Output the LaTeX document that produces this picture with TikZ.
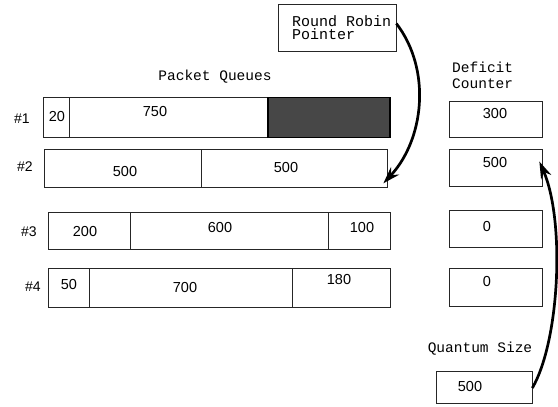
\documentclass[tikz,border=0pt]{standalone}
\usepackage{fontspec}
\setmainfont{Liberation Sans}
\setmonofont{Liberation Mono}
\usetikzlibrary{arrows.meta}
\begin{document}
\begin{tikzpicture}[x=1pt,y=-1pt,
  cell/.style={draw=black!85, line width=0.7pt, inner sep=0pt},
  shaded/.style={cell, fill=black!72, draw=black, line width=1.8pt},
  num/.style={font=\fontsize{14.5}{16}\selectfont, inner sep=0pt},
  qlabel/.style={font=\fontsize{14}{16}\selectfont, inner sep=0pt},
  captext/.style={font=\ttfamily\fontsize{14.5}{16}\selectfont, inner sep=0pt, align=left},
  ptr/.style={line width=2.7pt, -{Stealth[length=17pt,width=11pt]}}]
\useasboundingbox (0,0) rectangle (558,407);

% captions
\node[captext] (pq) at (215,77) {Packet Queues};
\node[captext, anchor=west] (dc) at (452,75) {Deficit\\Counter};
\node[captext] (qsz) at (480,349) {Quantum Size};

% round robin pointer box
\node[cell, minimum width=118pt, minimum height=47pt] (rr) at (337,27.5) {};
\node[captext, anchor=west, font=\ttfamily\fontsize{15}{13.5}\selectfont] (rrt) at (292,27.5) {Round Robin\\Pointer};

% queue labels
\node[qlabel] (l1) at (22,119) {\#1};
\node[qlabel] (l2) at (25,167) {\#2};
\node[qlabel] (l3) at (29,232) {\#3};
\node[qlabel] (l4) at (33,287) {\#4};

% queue 1
\node[cell, minimum width=26pt, minimum height=40pt] (q1a) at (56,117) {};
\node[cell, minimum width=199pt, minimum height=40pt] (q1b) at (168.5,117) {};
\node[shaded, minimum width=122pt, minimum height=40pt] (q1c) at (329,117.5) {};
\node[num] (t1a) at (57,117) {20};
\node[num] (t1b) at (155,112) {750};

% queue 2
\node[cell, minimum width=157pt, minimum height=38pt] (q2a) at (122.5,168) {};
\node[cell, minimum width=186pt, minimum height=38pt] (q2b) at (294,168) {};
\node[num] (t2a) at (125,172) {500};
\node[num] (t2b) at (286,168) {500};

% queue 3
\node[cell, minimum width=82pt, minimum height=37pt] (q3a) at (89,230.5) {};
\node[cell, minimum width=198pt, minimum height=37pt] (q3b) at (229,230.5) {};
\node[cell, minimum width=62pt, minimum height=37pt] (q3c) at (359,230.5) {};
\node[num] (t3a) at (85,232) {200};
\node[num] (t3b) at (220,228) {600};
\node[num] (t3c) at (362,228) {100};

% queue 4
\node[cell, minimum width=41pt, minimum height=39pt] (q4a) at (68.5,287.5) {};
\node[cell, minimum width=203pt, minimum height=39pt] (q4b) at (190.5,287.5) {};
\node[cell, minimum width=98pt, minimum height=39pt] (q4c) at (341,287.5) {};
\node[num] (t4a) at (69,285) {50};
\node[num] (t4b) at (185,288) {700};
\node[num] (t4c) at (339,280) {180};

% deficit counters
\node[cell, minimum width=93pt, minimum height=36pt] (d1) at (495.5,119) {};
\node[cell, minimum width=93pt, minimum height=37pt] (d2) at (495.5,167.5) {};
\node[cell, minimum width=93pt, minimum height=37pt] (d3) at (495.5,228.5) {};
\node[cell, minimum width=93pt, minimum height=38pt] (d4) at (495.5,287) {};
\node[num] (dt1) at (495,114) {300};
\node[num] (dt2) at (495,163) {500};
\node[num] (dt3) at (487,227) {0};
\node[num] (dt4) at (487,282) {0};

% quantum
\node[cell, minimum width=96pt, minimum height=32pt] (qs) at (484,387) {};
\node[num] (qt) at (470,387) {500};

% arrows
\draw[ptr] ([yshift=4pt]rr.east) .. controls (432,70) and (424,140) .. ([xshift=-4pt,yshift=4pt]q2b.south east);
\draw[ptr] ([yshift=-1pt]qs.east) .. controls (560,340) and (565,220) .. ([xshift=-3pt,yshift=6pt]d2.east);
\end{tikzpicture}
\end{document}
